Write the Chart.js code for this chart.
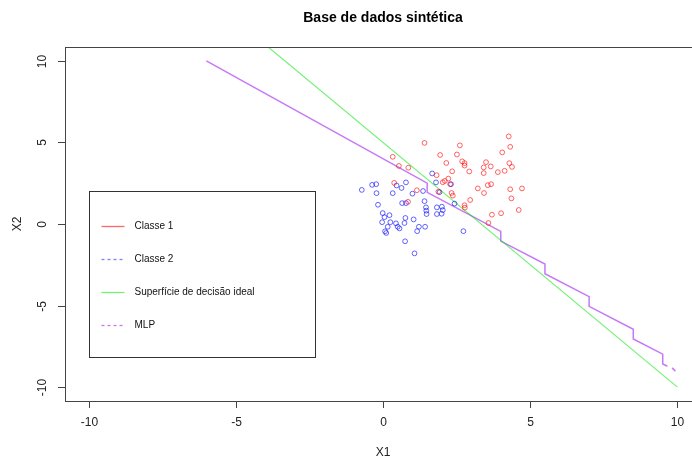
<!DOCTYPE html>
<html>
<head>
<meta charset="utf-8">
<script src="https://cdn.jsdelivr.net/npm/chart.js@4.4.0/dist/chart.umd.min.js"></script>
<style>
  html, body { margin: 0; padding: 0; background: #fff; overflow: hidden; }
  #wrap { position: relative; width: 720px; height: 459px; }
</style>
</head>
<body>
<div id="wrap"><canvas id="chart"></canvas></div>
<script>
// ======= DATA =======
const class1X = [1.41, 2.61, 4.27, 4.32, 1.94, 2.51, 4.05, 0.33, 2.15, 2.69, 2.77, 2.77, 3.50, 4.29,
  0.54, 0.86, 2.93, 2.35, 3.42, 3.66, 4.38, 3.42, 3.90, 4.13, 1.82, 2.22, 2.10, 2.03, 0.38, 2.28,
  3.56, 3.67, 3.22, 4.32, 4.72, 1.15, 1.88, 2.33, 2.37, 3.43, 4.36, 2.96, 0.85, 2.77, 2.78, 3.70,
  4.01, 4.61, 3.58];
const class1Y = [4.97, 4.82, 5.37, 4.73, 4.23, 4.26, 4.39, 4.12, 3.74, 3.84, 3.73, 3.58, 3.79, 3.73,
  3.56, 3.45, 3.22, 3.23, 3.47, 3.53, 3.50, 3.12, 3.18, 3.26, 2.99, 2.78, 2.64, 2.56, 2.52, 2.44,
  2.38, 2.44, 2.18, 2.13, 2.18, 2.07, 1.98, 1.90, 1.74, 1.90, 1.57, 1.47, 1.36, 1.15, 1.00, 0.57,
  0.66, 0.86, 0.06];

const class2X = [-0.72, -0.37, -0.23, -0.22, 0.33, 0.46, 0.63, 0.78, 1.00, 1.36, 1.67, 1.80, 1.92,
  2.31, -0.17, 0.65, 0.78, 1.41, 1.46, 1.47, 1.48, 1.83, 2.00, 1.83, 1.99, 2.43, 2.03, -0.01, 0.22,
  0.05, -0.03, 0.25, 0.44, 0.76, 1.04, 0.73, 0.16, 0.50, 0.56, 1.22, 1.43, 1.16, 0.07, 0.11, 0.75,
  1.07, 2.73];
const class2Y = [2.09, 2.40, 2.44, 1.89, 1.89, 2.36, 2.21, 2.55, 1.86, 2.02, 3.10, 2.55, 1.95,
  2.44, 1.18, 1.28, 1.28, 1.40, 1.02, 0.82, 0.61, 1.02, 1.06, 0.61, 0.63, 1.25, 0.85, 0.67, 0.54,
  0.42, 0.11, 0.11, 0.04, 0.37, 0.28, 0.06, -0.17, -0.17, -0.27, -0.17, -0.17, -0.44, -0.45, -0.55,
  -1.06, -1.80, -0.44];

// ideal decision surface
const idealX = [-4, 10];
const idealY = [11, -10];

// MLP decision boundary (staircase)
const mlpX = [-6, 1.5, 1.5, 4.0, 4.0, 5.5, 5.5, 7.0, 7.0, 8.5, 8.5, 9.5, 9.5, 9.66, 9.75, 9.82, 9.93];
const mlpY = [10, 2.5, 1.94, -0.45, -1.05, -2.45, -3.05, -4.45, -5.05, -6.45, -7.05, -7.98, -8.58, -8.72, null, -8.82, -9.02];

const xTicks = [-10, -5, 0, 5, 10];
const yTicks = [-10, -5, 0, 5, 10];

const legendLabels = ['Classe 1', 'Classe 2', 'Superfície de decisão ideal', 'MLP'];
const legendColors = ['rgba(255,0,0,0.6)', 'rgba(0,0,255,0.5)', 'rgba(0,230,0,0.55)', 'rgba(160,32,240,0.6)'];
const legendDashes = [[], [3, 3], [], [3, 3]];

const FONT = '"Liberation Sans", Arial, sans-serif';

const toPoints = (xs, ys) => xs.map((x, i) => ({ x: x, y: ys[i] }));

// ======= R STYLE AXES / TITLE / LEGEND =======
const rStyle = {
  id: 'rStyle',
  beforeDraw(chart) {
    const ctx = chart.ctx;
    ctx.save();
    ctx.fillStyle = '#fff';
    ctx.fillRect(0, 0, chart.width, chart.height);
    ctx.restore();
  },
  afterDraw(chart) {
    const ctx = chart.ctx;
    const a = chart.chartArea;
    const xs = chart.scales.x;
    const ys = chart.scales.y;
    ctx.save();

    // box
    ctx.strokeStyle = '#444';
    ctx.lineWidth = 1;
    ctx.strokeRect(Math.round(a.left) + 0.5, Math.round(a.top) + 0.5,
      Math.round(a.right - a.left), Math.round(a.bottom - a.top));

    // x ticks
    ctx.fillStyle = '#222';
    ctx.font = '12px ' + FONT;
    ctx.textAlign = 'center';
    ctx.textBaseline = 'middle';
    xTicks.forEach(t => {
      const px = Math.round(xs.getPixelForValue(t)) + 0.5;
      ctx.beginPath();
      ctx.moveTo(px, a.bottom);
      ctx.lineTo(px, a.bottom + 7);
      ctx.stroke();
      ctx.fillText(String(t), px, a.bottom + 22);
    });

    // y ticks (rotated labels)
    yTicks.forEach(t => {
      const py = Math.round(ys.getPixelForValue(t)) + 0.5;
      ctx.beginPath();
      ctx.moveTo(a.left, py);
      ctx.lineTo(a.left - 7, py);
      ctx.stroke();
      ctx.save();
      ctx.translate(a.left - 22, py);
      ctx.rotate(-Math.PI / 2);
      ctx.fillText(String(t), 0, 0);
      ctx.restore();
    });

    // axis titles
    const cx = (a.left + a.right) / 2;
    ctx.fillText('X1', cx, a.bottom + 52);
    ctx.save();
    ctx.translate(18, (a.top + a.bottom) / 2);
    ctx.rotate(-Math.PI / 2);
    ctx.fillText('X2', 0, 0);
    ctx.restore();

    // title
    ctx.fillStyle = '#000';
    ctx.font = 'bold 14px ' + FONT;
    ctx.fillText('Base de dados sintética', cx, 18);

    // legend
    const lx = Math.round(xs.getPixelForValue(-10)) + 0.5;
    const ly = Math.round(ys.getPixelForValue(2)) + 0.5;
    ctx.strokeStyle = '#333';
    ctx.strokeRect(lx, ly, 226, 166);
    ctx.font = '10px ' + FONT;
    ctx.textAlign = 'left';
    legendLabels.forEach((lab, i) => {
      const iy = ly + 35 + i * 33;
      ctx.strokeStyle = legendColors[i];
      ctx.lineWidth = 1.3;
      ctx.setLineDash(legendDashes[i]);
      ctx.beginPath();
      ctx.moveTo(lx + 12, iy);
      ctx.lineTo(lx + 35, iy);
      ctx.stroke();
      ctx.setLineDash([]);
      ctx.fillStyle = '#111';
      ctx.fillText(lab, lx + 45, iy);
    });

    ctx.restore();
  }
};

// ======= CHART =======
const config = {
  type: 'scatter',
  data: {
    datasets: [
      {
        label: legendLabels[0],
        data: toPoints(class1X, class1Y),
        pointStyle: 'circle',
        pointRadius: 2.4,
        pointBorderWidth: 1,
        pointBorderColor: legendColors[0],
        pointBackgroundColor: 'rgba(0,0,0,0)'
      },
      {
        label: legendLabels[1],
        data: toPoints(class2X, class2Y),
        pointStyle: 'circle',
        pointRadius: 2.4,
        pointBorderWidth: 1,
        pointBorderColor: 'rgba(0,0,255,0.6)',
        pointBackgroundColor: 'rgba(0,0,0,0)'
      },
      {
        label: legendLabels[2],
        data: toPoints(idealX, idealY),
        showLine: true,
        borderColor: legendColors[2],
        borderWidth: 1.2,
        pointRadius: 0
      },
      {
        label: legendLabels[3],
        data: toPoints(mlpX, mlpY),
        showLine: true,
        spanGaps: false,
        borderColor: legendColors[3],
        borderWidth: 1.5,
        pointRadius: 0
      }
    ]
  },
  options: {
    responsive: true,
    maintainAspectRatio: false,
    animation: false,
    layout: {
      padding: { left: 65, top: 47, right: 19, bottom: 58 }
    },
    scales: {
      x: { type: 'linear', min: -10.8, max: 10.8, display: false },
      y: { type: 'linear', min: -10.85, max: 10.85, display: false }
    },
    plugins: {
      legend: { display: false },
      title: { display: false },
      tooltip: { enabled: false }
    }
  },
  plugins: [rStyle]
};

new Chart(document.getElementById('chart'), config);
</script>
</body>
</html>
